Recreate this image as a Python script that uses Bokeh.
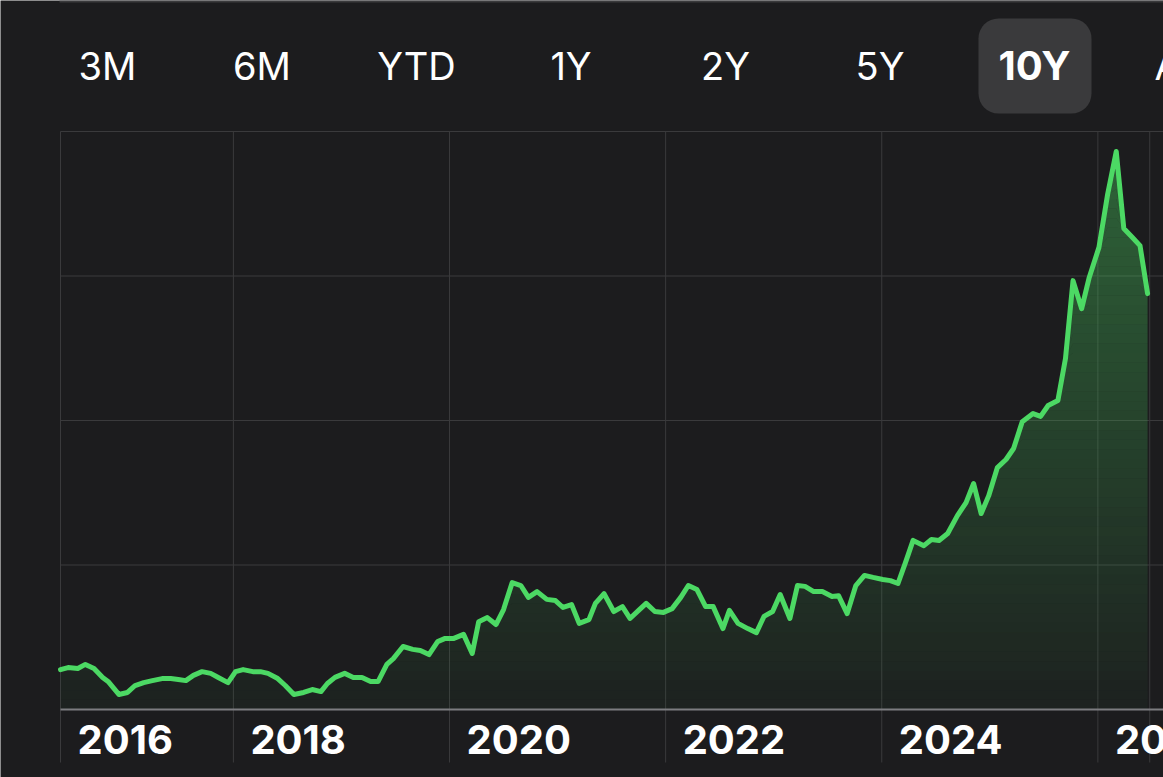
import numpy as np
from bokeh.plotting import figure
from bokeh.models import Range1d, BoxAnnotation, ColumnDataSource
from bokeh.core.properties import value
from bokeh.embed import file_html
from bokeh.resources import INLINE

# ---------------- data ----------------
t_year = [
    2016.40, 2016.47, 2016.56, 2016.63, 2016.71, 2016.79, 2016.84, 2016.94, 2017.02, 2017.09,
    2017.17, 2017.25, 2017.34, 2017.42, 2017.49, 2017.56, 2017.63, 2017.71, 2017.79, 2017.86,
    2017.95, 2018.02, 2018.09, 2018.18, 2018.25, 2018.32, 2018.41, 2018.48, 2018.56, 2018.65,
    2018.73, 2018.81, 2018.87, 2018.94,
    2019.03, 2019.11, 2019.19, 2019.27, 2019.34, 2019.42, 2019.48, 2019.57, 2019.66, 2019.73,
    2019.81, 2019.89, 2019.96, 2020.04, 2020.13, 2020.21, 2020.27, 2020.35, 2020.43, 2020.50,
    2020.58, 2020.66, 2020.73, 2020.81, 2020.90, 2020.98, 2021.05, 2021.13, 2021.20, 2021.29,
    2021.35, 2021.43, 2021.52, 2021.60, 2021.67, 2021.75, 2021.82, 2021.90, 2021.98, 2022.06,
    2022.14, 2022.21, 2022.29, 2022.37, 2022.44, 2022.53, 2022.59, 2022.67, 2022.76, 2022.84,
    2022.91, 2022.99, 2023.06, 2023.15, 2023.22, 2023.29, 2023.37, 2023.45, 2023.54, 2023.60,
    2023.68, 2023.76, 2023.84,
    2023.92, 2024.01, 2024.08, 2024.15, 2024.22, 2024.29, 2024.39, 2024.46, 2024.53, 2024.61,
    2024.70, 2024.78, 2024.85, 2024.92, 2024.99, 2025.07, 2025.15, 2025.22,
    2025.30, 2025.40, 2025.47, 2025.54, 2025.63, 2025.70, 2025.77, 2025.85, 2025.92, 2026.01,
    2026.09, 2026.17, 2026.24, 2026.32, 2026.39, 2026.46,
]

price = [
    13.8, 14.5, 14.2, 15.6, 14.2, 11.1, 9.7, 5.2, 5.9, 8.3,
    9.3, 10.0, 10.7, 10.7, 10.4, 10.0, 11.8, 13.1, 12.5, 11.1,
    9.3, 13.1, 13.8, 13.1, 13.1, 12.5, 10.7, 8.3, 5.2, 5.9,
    6.9, 6.2, 9.0, 11.1,
    12.5, 11.1, 11.1, 9.7, 9.7, 15.6, 17.6, 21.8, 20.8, 20.4,
    19.0, 23.5, 24.6, 24.6, 26.0, 19.4, 30.4, 31.8, 29.4, 34.6,
    43.9, 42.9, 38.8, 40.8, 38.1, 37.7, 35.3, 36.3, 29.8, 31.1,
    36.7, 40.1, 33.9, 35.6, 31.5, 34.3, 36.7, 33.9, 33.6, 34.9,
    38.8, 42.9, 41.5, 35.6, 35.6, 28.0, 34.3, 29.8, 28.0, 26.6,
    32.2, 33.9, 39.8, 31.5, 42.9, 42.6, 40.8, 40.8, 39.1, 39.4,
    33.2, 42.9, 46.4,
    45.7, 45.0, 44.6, 43.6, 50.9, 58.5, 56.7, 58.8, 58.5, 60.9,
    67.1, 71.6, 78.2, 67.8, 74.0, 83.7, 86.5, 90.3,
    99.6, 102.4, 101.4, 105.2, 106.9, 121.4, 148.4, 138.7, 149.5, 159.9,
    178.2, 193.1, 166.4, 163.3, 160.5, 143.9,
]

range_buttons = ["3M", "6M", "YTD", "1Y", "2Y", "5Y", "10Y", "ALL"]
selected_range = "10Y"

year_labels = ["2016", "2018", "2020", "2022", "2024", "2026"]
year_ticks = [t_year[0], 2018, 2020, 2022, 2024, 2026]

price_grid = [50, 100, 150, 200]

# ---------------- layout helpers (page px -> data) ----------------
W, H = 1163, 777
PAGE_OFF = 0
PX_PER_YEAR = 108.06
X0_PX = 60.0
PX_PER_UNIT = 144.5 / 50.0
BASE_PX = 709.0


def X(px):
    return t_year[0] + (px - X0_PX) / PX_PER_YEAR


def Y(py):
    return (BASE_PX - py) / PX_PER_UNIT


BG = "#1c1c1e"
GREEN = "#4cd964"
GRID = "#3a3a3c"

x_end = X(PAGE_OFF + W)

p = figure(width=W, height=H, output_backend="svg", toolbar_location=None,
           x_range=Range1d(X(PAGE_OFF), x_end), y_range=Range1d(Y(PAGE_OFF + H), Y(PAGE_OFF)),
           x_axis_type=None, y_axis_type=None, min_border=0, tools="")
p.background_fill_color = BG
p.border_fill_color = BG
p.outline_line_color = None
p.grid.visible = False

# thin separator at the very top
p.segment(x0=[X(59)], x1=[x_end], y0=[Y(1)], y1=[Y(1)], line_color="#3a3a3c", line_width=2)

# horizontal grid lines
p.segment(x0=[t_year[0]] * len(price_grid), x1=[x_end] * len(price_grid),
          y0=price_grid, y1=price_grid, line_color=GRID, line_width=1)

# vertical grid lines (year ticks + data end)
vx = year_ticks + [t_year[-1] + 0.02]
p.segment(x0=vx, x1=vx, y0=[Y(762)] * len(vx), y1=[price_grid[-1]] * len(vx),
          line_color=GRID, line_width=1)

# gradient fill under the line (stacked horizontal bands)
xa = np.array(t_year)
ya = np.array(price)
n_b = 60
edges = np.linspace(0, 200, n_b + 1)
for j in range(n_b):
    a, b = edges[j], edges[j + 1]
    if a >= ya.max():
        break
    lo = np.minimum(ya, a)
    hi = np.minimum(ya, b)
    mid = (a + b) / 2
    alpha = 0.03 + 0.0018 * mid
    p.varea(x=xa, y1=lo, y2=hi, fill_color=GREEN, fill_alpha=alpha)

# baseline
p.segment(x0=[t_year[0]], x1=[x_end], y0=[0], y1=[0], line_color="#7c7c80", line_width=2)

# price line
p.line(xa, ya, line_color=GREEN, line_width=5, line_join="round", line_cap="round")

# year labels
p.text(x=year_ticks, y=[Y(739)] * len(year_ticks), text=year_labels,
       text_font=value("Inter"), text_font_size="40px", text_font_style="bold",
       text_color="white", text_baseline="alphabetic", text_align="left", x_offset=17)

# range buttons
btn_x = [X(107 + i * 154.5) for i in range(len(range_buttons))]
sel_i = range_buttons.index(selected_range)
box = BoxAnnotation(left=X(978), right=X(1091), top=Y(18), bottom=Y(113),
                    fill_color="#3a3a3c", fill_alpha=1.0, line_color=None,
                    border_radius=20, level="underlay")
p.add_layout(box)

normal_src = ColumnDataSource(dict(
    x=[bx for i, bx in enumerate(btn_x) if i != sel_i],
    y=[Y(65)] * (len(range_buttons) - 1),
    t=[b for i, b in enumerate(range_buttons) if i != sel_i]))
p.text(x="x", y="y", text="t", source=normal_src, text_font=value("Inter"),
       text_font_size="38px", text_color="white", text_baseline="alphabetic",
       text_align="center")
p.text(x=[btn_x[sel_i]], y=[Y(65)], text=[selected_range], text_font=value("Inter"),
       text_font_size="40px", text_font_style="bold", text_color="white",
       text_baseline="alphabetic", text_align="center")

html = file_html(p, INLINE, title="10Y chart")
html = html.replace("<body>", '<body style="background-color:#1c1c1e;">', 1)
open("out.html", "w").write(html)
